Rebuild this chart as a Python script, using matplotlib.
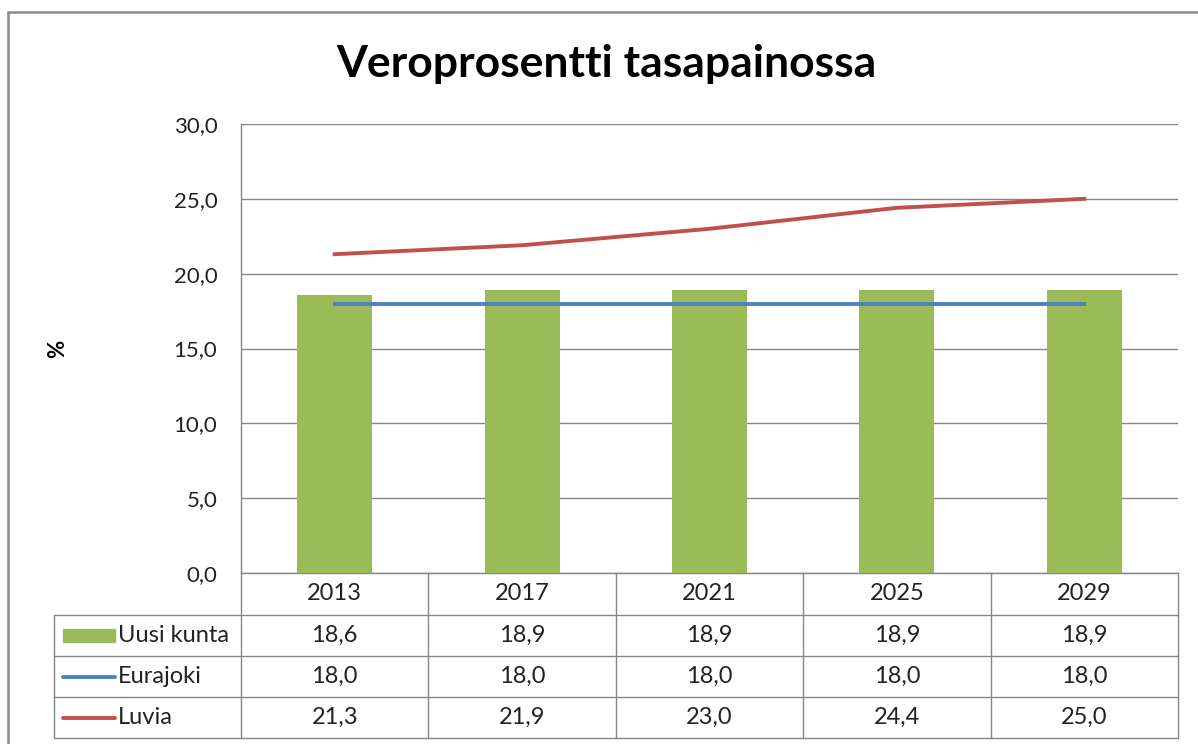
import matplotlib
matplotlib.use('Agg')
import matplotlib.pyplot as plt
import matplotlib.transforms as mtransforms
from matplotlib.patches import Rectangle

# data
years = ['2013', '2017', '2021', '2025', '2029']
uusi_kunta = [18.6, 18.9, 18.9, 18.9, 18.9]
eurajoki = [18.0, 18.0, 18.0, 18.0, 18.0]
luvia = [21.3, 21.9, 23.0, 24.4, 25.0]
series_names = ['Uusi kunta', 'Eurajoki', 'Luvia']
y_ticks = [0, 5, 10, 15, 20, 25, 30]

green = '#9BBB59'
blue = '#4F81BD'
red = '#C0504D'
grid_c = '#868686'

plt.rcParams['font.family'] = ['Lato', 'DejaVu Sans']

W, H = 1198, 744
fig = plt.figure(figsize=(W / 100, H / 100), dpi=100)

# outer chart frame
fig.add_artist(Rectangle((8 / W, -0.1), 1.2, 1 - 12 / H + 0.1, transform=fig.transFigure,
                         fill=False, ec='#8a8a8a', lw=1.8))

ax = fig.add_axes([241 / W, 1 - 573 / H, 937 / W, 449 / H])
x = list(range(len(years)))
ax.bar(x, uusi_kunta, width=0.4, color=green, zorder=2)
ax.plot(x, eurajoki, color=blue, lw=2.8, zorder=3)
ax.plot(x, luvia, color=red, lw=2.8, zorder=3)

ax.set_xlim(-0.5, len(years) - 0.5)
ax.set_ylim(0, 30)
ax.set_yticks(y_ticks)
ax.set_yticklabels([f'{v:.1f}'.replace('.', ',') for v in y_ticks], fontsize=16, color='#222222')
ax.set_xticks([])
ax.tick_params(axis='y', length=0, pad=17)
ax.yaxis.grid(True, color=grid_c, lw=1)
ax.set_axisbelow(True)
for s in ['top', 'right', 'bottom']:
    ax.spines[s].set_visible(False)
ax.spines['left'].set_color(grid_c)
ax.spines['left'].set_linewidth(1)

# title and axis label
fig.text(606 / W, 1 - 77 / H, 'Veroprosentti tasapainossa', ha='center', va='baseline',
         fontsize=32, fontweight='bold', color='black')
fig.text(58 / W, 1 - 349 / H, '%', rotation=90, ha='center', va='center',
         fontsize=16, fontweight='bold', color='black')

# data table under the plot
trans = mtransforms.blended_transform_factory(ax.transData, ax.transAxes)
rows_px = [573, 615, 656, 697, 738]
rows = [(573 - p) / 449 for p in rows_px]
n = len(years)
lab_left = -1.5

lkw = dict(color=grid_c, lw=1, transform=trans, clip_on=False, zorder=1)
# horizontal lines
ax.plot([-0.5, n - 0.5], [rows[0], rows[0]], **lkw)
for r in rows[1:]:
    ax.plot([lab_left, n - 0.5], [r, r], **lkw)
# vertical lines
ax.plot([lab_left, lab_left], [rows[1], rows[-1]], **lkw)
for i in range(n + 1):
    ax.plot([i - 0.5, i - 0.5], [rows[0], rows[-1]], **lkw)

tkw = dict(transform=trans, fontsize=17, color='#222222', va='center', clip_on=False)
for i, yr in enumerate(years):
    ax.text(i, (rows[0] + rows[1]) / 2, yr, ha='center', **tkw)

table_vals = [uusi_kunta, eurajoki, luvia]
for j, vals in enumerate(table_vals):
    yc = (rows[j + 1] + rows[j + 2]) / 2
    for i, v in enumerate(vals):
        ax.text(i, yc, f'{v:.1f}'.replace('.', ','), ha='center', **tkw)
    ax.text(lab_left + 0.345, yc, series_names[j], ha='left', **tkw)

# legend keys in the label column
k0, k1 = lab_left + 0.048, lab_left + 0.33
yc0 = (rows[1] + rows[2]) / 2
kh = 13 / 449
ax.add_patch(Rectangle((k0, yc0 - kh / 2), k1 - k0, kh, transform=trans, color=green,
                       clip_on=False))
for j, c in [(1, blue), (2, red)]:
    yc = (rows[j + 1] + rows[j + 2]) / 2
    ax.plot([k0, k1], [yc, yc], color=c, lw=2.8, transform=trans, clip_on=False,
            solid_capstyle='round')

fig.savefig('out.png', dpi=100)
